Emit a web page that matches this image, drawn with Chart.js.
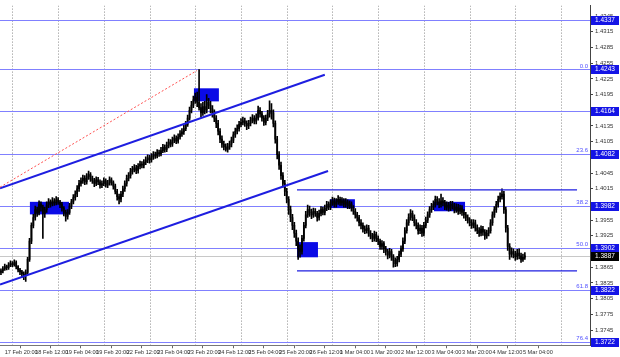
<!DOCTYPE html>
<html>
<head>
<meta charset="utf-8">
<script src="https://cdn.jsdelivr.net/npm/chart.js@4.4.1/dist/chart.umd.min.js"></script>
<style>
  html, body { margin: 0; padding: 0; background: #fff; overflow: hidden; }
  canvas { display: block; }
</style>
</head>
<body>
<canvas id="chart" width="620" height="357"></canvas>
<script>
// hourly candles, 17 Feb 18:00 .. 5 Mar 06:00 (open = previous close)
var firstOpen = 1.3855;
var closes = [
  1.3858,1.3862,1.3866,1.3864,1.3869,1.3872,1.3870,1.3874,1.3866,1.3860,
  1.3856,1.3852,1.3849,1.3855,1.3880,1.3915,1.3945,1.3960,1.3975,1.3970,
  1.3985,1.3980,1.3968,1.3975,1.3984,1.3990,1.3986,1.3992,1.3988,1.3994,
  1.3990,1.3985,1.3978,1.3970,1.3962,1.3970,1.3982,1.3990,1.3998,1.4005,
  1.4015,1.4025,1.4030,1.4035,1.4028,1.4038,1.4042,1.4034,1.4030,1.4025,
  1.4032,1.4028,1.4022,1.4025,1.4030,1.4022,1.4026,1.4032,1.4027,1.4020,
  1.4010,1.4000,1.3995,1.4005,1.4015,1.4025,1.4035,1.4040,1.4048,1.4052,
  1.4055,1.4050,1.4058,1.4062,1.4060,1.4066,1.4070,1.4074,1.4070,1.4076,
  1.4080,1.4078,1.4084,1.4082,1.4088,1.4094,1.4090,1.4098,1.4104,1.4100,
  1.4108,1.4112,1.4106,1.4114,1.4120,1.4124,1.4130,1.4138,1.4150,1.4165,
  1.4175,1.4185,1.4190,1.4180,1.4170,1.4160,1.4172,1.4165,1.4180,1.4175,
  1.4168,1.4160,1.4150,1.4140,1.4125,1.4110,1.4100,1.4095,1.4090,1.4095,
  1.4100,1.4108,1.4118,1.4125,1.4130,1.4138,1.4142,1.4145,1.4140,1.4135,
  1.4140,1.4146,1.4150,1.4144,1.4150,1.4165,1.4158,1.4150,1.4142,1.4150,
  1.4158,1.4165,1.4160,1.4140,1.4110,1.4080,1.4060,1.4040,1.4025,1.4010,
  1.3995,1.3975,1.3960,1.3945,1.3930,1.3915,1.3900,1.3895,1.3920,1.3945,
  1.3965,1.3975,1.3970,1.3965,1.3972,1.3968,1.3960,1.3968,1.3975,1.3970,
  1.3978,1.3985,1.3980,1.3988,1.3992,1.3985,1.3990,1.3995,1.3988,1.3992,
  1.3985,1.3990,1.3982,1.3986,1.3978,1.3972,1.3965,1.3960,1.3950,1.3945,
  1.3938,1.3935,1.3940,1.3930,1.3925,1.3920,1.3928,1.3920,1.3915,1.3905,
  1.3910,1.3900,1.3895,1.3888,1.3895,1.3885,1.3878,1.3872,1.3880,1.3890,
  1.3900,1.3915,1.3935,1.3950,1.3960,1.3968,1.3960,1.3950,1.3945,1.3935,
  1.3940,1.3930,1.3945,1.3955,1.3965,1.3975,1.3980,1.3985,1.3995,1.3990,
  1.3985,1.3992,1.3988,1.3980,1.3984,1.3978,1.3985,1.3982,1.3975,1.3980,
  1.3972,1.3978,1.3970,1.3965,1.3960,1.3955,1.3950,1.3945,1.3950,1.3940,
  1.3935,1.3930,1.3938,1.3932,1.3925,1.3930,1.3935,1.3950,1.3965,1.3975,
  1.3985,1.3995,1.4000,1.4005,1.3975,1.3940,1.3905,1.3890,1.3895,1.3890,
  1.3885,1.3892,1.3887,1.3880,1.3884,1.3887
];
var highs = [
  1.3862,1.3866,1.3871,1.3869,1.3874,1.3877,1.3876,1.3879,1.3877,1.3868,
  1.3863,1.3859,1.3856,1.3860,1.3884,1.3920,1.3950,1.3966,1.3982,1.3980,
  1.3992,1.3990,1.3984,1.3980,1.3990,1.3996,1.3994,1.3998,1.3996,1.4000,
  1.3998,1.3993,1.3989,1.3981,1.3974,1.3975,1.3987,1.3995,1.4004,1.4011,
  1.4021,1.4031,1.4036,1.4041,1.4040,1.4044,1.4049,1.4046,1.4039,1.4035,
  1.4038,1.4037,1.4032,1.4030,1.4036,1.4034,1.4031,1.4038,1.4036,1.4030,
  1.4024,1.4014,1.4005,1.4010,1.4020,1.4030,1.4041,1.4046,1.4054,1.4058,
  1.4061,1.4060,1.4063,1.4068,1.4067,1.4071,1.4076,1.4080,1.4079,1.4082,
  1.4086,1.4085,1.4090,1.4089,1.4094,1.4100,1.4099,1.4104,1.4110,1.4109,
  1.4114,1.4118,1.4116,1.4120,1.4126,1.4130,1.4136,1.4144,1.4156,1.4171,
  1.4182,1.4192,1.4198,1.4200,1.4243,1.4178,1.4180,1.4182,1.4195,1.4188,
  1.4182,1.4174,1.4166,1.4155,1.4146,1.4130,1.4116,1.4106,1.4101,1.4102,
  1.4106,1.4114,1.4124,1.4131,1.4137,1.4144,1.4149,1.4152,1.4150,1.4145,
  1.4146,1.4152,1.4157,1.4155,1.4158,1.4173,1.4170,1.4163,1.4155,1.4156,
  1.4165,1.4183,1.4178,1.4166,1.4145,1.4115,1.4086,1.4066,1.4046,1.4031,
  1.4016,1.4000,1.3982,1.3966,1.3951,1.3936,1.3921,1.3908,1.3926,1.3951,
  1.3972,1.3984,1.3982,1.3976,1.3978,1.3977,1.3972,1.3974,1.3981,1.3980,
  1.3984,1.3991,1.3990,1.3994,1.3999,1.3997,1.3996,1.4002,1.3999,1.3998,
  1.3996,1.3996,1.3994,1.3992,1.3990,1.3983,1.3977,1.3970,1.3964,1.3956,
  1.3950,1.3944,1.3946,1.3945,1.3935,1.3930,1.3934,1.3932,1.3925,1.3919,
  1.3916,1.3914,1.3905,1.3899,1.3901,1.3899,1.3889,1.3883,1.3886,1.3896,
  1.3906,1.3921,1.3941,1.3956,1.3967,1.3975,1.3973,1.3965,1.3956,1.3950,
  1.3946,1.3945,1.3951,1.3961,1.3971,1.3981,1.3987,1.3992,1.4001,1.4000,
  1.3996,1.4005,1.3998,1.3993,1.3990,1.3989,1.3991,1.3991,1.3987,1.3986,
  1.3985,1.3984,1.3983,1.3975,1.3970,1.3965,1.3960,1.3956,1.3956,1.3955,
  1.3946,1.3941,1.3944,1.3943,1.3937,1.3936,1.3941,1.3956,1.3971,1.3981,
  1.3991,1.4001,1.4007,1.4015,1.4010,1.3980,1.3945,1.3910,1.3902,1.3900,
  1.3896,1.3899,1.3900,1.3892,1.3890,1.3893
];
var lows = [
  1.3851,1.3854,1.3859,1.3860,1.3861,1.3866,1.3866,1.3867,1.3862,1.3856,
  1.3851,1.3846,1.3841,1.3838,1.3852,1.3876,1.3910,1.3940,1.3955,1.3962,
  1.3965,1.3972,1.3920,1.3960,1.3970,1.3979,1.3980,1.3982,1.3983,1.3984,
  1.3985,1.3979,1.3972,1.3963,1.3953,1.3957,1.3966,1.3977,1.3986,1.3993,
  1.4000,1.4010,1.4020,1.4025,1.4023,1.4024,1.4033,1.4029,1.4025,1.4019,
  1.4021,1.4023,1.4016,1.4017,1.4021,1.4018,1.4017,1.4022,1.4022,1.4014,
  1.4005,1.3993,1.3986,1.3990,1.4000,1.4010,1.4020,1.4030,1.4035,1.4043,
  1.4047,1.4044,1.4045,1.4053,1.4055,1.4055,1.4061,1.4065,1.4064,1.4066,
  1.4071,1.4073,1.4074,1.4077,1.4078,1.4084,1.4085,1.4086,1.4093,1.4095,
  1.4096,1.4103,1.4101,1.4102,1.4110,1.4115,1.4119,1.4126,1.4134,1.4146,
  1.4160,1.4170,1.4178,1.4172,1.4165,1.4152,1.4155,1.4158,1.4160,1.4168,
  1.4160,1.4152,1.4143,1.4132,1.4118,1.4103,1.4094,1.4089,1.4087,1.4085,
  1.4090,1.4095,1.4103,1.4113,1.4120,1.4125,1.4133,1.4137,1.4134,1.4128,
  1.4130,1.4135,1.4141,1.4139,1.4139,1.4146,1.4152,1.4144,1.4136,1.4137,
  1.4145,1.4152,1.4148,1.4133,1.4102,1.4072,1.4052,1.4033,1.4018,1.4002,
  1.3988,1.3966,1.3952,1.3937,1.3922,1.3906,1.3880,1.3884,1.3890,1.3915,
  1.3940,1.3960,1.3962,1.3958,1.3960,1.3962,1.3953,1.3955,1.3963,1.3965,
  1.3965,1.3973,1.3975,1.3975,1.3983,1.3980,1.3980,1.3985,1.3983,1.3983,
  1.3980,1.3980,1.3977,1.3977,1.3972,1.3966,1.3959,1.3953,1.3944,1.3938,
  1.3932,1.3929,1.3930,1.3924,1.3919,1.3914,1.3915,1.3914,1.3908,1.3899,
  1.3899,1.3893,1.3888,1.3881,1.3883,1.3878,1.3865,1.3866,1.3867,1.3875,
  1.3885,1.3895,1.3910,1.3930,1.3945,1.3955,1.3954,1.3944,1.3938,1.3928,
  1.3929,1.3924,1.3925,1.3940,1.3950,1.3960,1.3970,1.3975,1.3980,1.3984,
  1.3979,1.3980,1.3982,1.3975,1.3974,1.3972,1.3973,1.3976,1.3969,1.3970,
  1.3966,1.3967,1.3964,1.3959,1.3954,1.3949,1.3944,1.3939,1.3940,1.3934,
  1.3929,1.3924,1.3925,1.3926,1.3918,1.3920,1.3925,1.3930,1.3945,1.3960,
  1.3970,1.3980,1.3990,1.3995,1.3968,1.3932,1.3897,1.3880,1.3884,1.3883,
  1.3878,1.3880,1.3881,1.3874,1.3876,1.3880
];

var timeLabels = ['17 Feb 20:00','18 Feb 12:00','19 Feb 04:00','19 Feb 20:00','22 Feb 12:00','23 Feb 04:00',
  '23 Feb 20:00','24 Feb 12:00','25 Feb 04:00','25 Feb 20:00','26 Feb 12:00','1 Mar 04:00',
  '1 Mar 20:00','2 Mar 12:00','3 Mar 04:00','3 Mar 20:00','4 Mar 12:00','5 Mar 04:00'];
var labelBars = [2,18,34,50,66,82,98,114,130,146,162,178,194,210,226,242,258,274];
var dayBars = [6,30,54,78,102,126,150,174,198,222,246,270,294];
var priceTicks = [1.4345,1.4315,1.4285,1.4255,1.4225,1.4195,1.4165,1.4135,1.4105,1.4075,1.4045,
  1.4015,1.3985,1.3955,1.3925,1.3895,1.3865,1.3835,1.3805,1.3775,1.3745];

// horizontal levels and fibo ratios
var levels = [1.4337,1.4243,1.4164,1.4082,1.3982,1.3902,1.3822,1.3722];
var fiboNames = ['','0.0','','23.6','38.2','50.0','61.8','76.4'];
var lastPrice = 1.3887;

// drawn objects: [bar from, bar to, price top, price bottom]
var boxes = [[15.2,35.7,1.3990,1.3966],[101.3,114.4,1.4207,1.4182],[172.7,185.8,1.3995,1.3978],
  [155.4,166.4,1.3913,1.3884],[227.3,243.6,1.3990,1.3972]];
// [bar, price, bar, price]
var channelLines = [[-0.5,1.4016,170,1.4233],[-0.5,1.3832,171.7,1.4049]];
var fiboLine = [-0.5,1.4018,102.9,1.4241];
// [bar from, bar to, price]
var zoneLines = [[155.4,302.4,1.4013],[155.4,302.4,1.3858]];

var FONT = "'Liberation Sans', Arial, sans-serif";

var opens = closes.map(function (c, i) { return i === 0 ? firstOpen : closes[i - 1]; });

var overlay = {
  id: 'overlay',
  beforeDatasetsDraw: function (chart) {
    var ctx = chart.ctx, xs = chart.scales.x, ys = chart.scales.y, a = chart.chartArea;
    ctx.save();
    ctx.beginPath(); ctx.rect(a.left, a.top, a.right - a.left, a.bottom - a.top); ctx.clip();

    // day separators
    ctx.strokeStyle = '#8a8a8a'; ctx.lineWidth = 1; ctx.setLineDash([1, 2]);
    dayBars.forEach(function (d) {
      var x = Math.round(xs.getPixelForValue(d)) + 0.5;
      ctx.beginPath(); ctx.moveTo(x, a.top); ctx.lineTo(x, a.bottom); ctx.stroke();
    });
    ctx.setLineDash([]);

    // bid line
    var yb = Math.round(ys.getPixelForValue(lastPrice)) + 0.5;
    ctx.strokeStyle = '#c8c8c8';
    ctx.beginPath(); ctx.moveTo(a.left, yb); ctx.lineTo(a.right, yb); ctx.stroke();

    // levels
    ctx.strokeStyle = '#8080ff';
    levels.forEach(function (p) {
      var y = Math.round(ys.getPixelForValue(p)) + 0.5;
      ctx.beginPath(); ctx.moveTo(a.left, y); ctx.lineTo(a.right, y); ctx.stroke();
    });

    // boxes
    boxes.forEach(function (b) {
      var x1 = xs.getPixelForValue(b[0]), x2 = xs.getPixelForValue(b[1]);
      var y1 = ys.getPixelForValue(b[2]), y2 = ys.getPixelForValue(b[3]);
      ctx.fillStyle = '#0a0ae6';
      ctx.fillRect(x1, y1, x2 - x1, y2 - y1);
    });
    ctx.restore();
  },
  afterDatasetsDraw: function (chart) {
    var ctx = chart.ctx, xs = chart.scales.x, ys = chart.scales.y, a = chart.chartArea;
    ctx.save();
    ctx.beginPath(); ctx.rect(a.left, a.top, a.right - a.left, a.bottom - a.top); ctx.clip();

    ctx.strokeStyle = '#1e1ee0'; ctx.lineWidth = 2;
    channelLines.forEach(function (l) {
      ctx.beginPath();
      ctx.moveTo(xs.getPixelForValue(l[0]), ys.getPixelForValue(l[1]));
      ctx.lineTo(xs.getPixelForValue(l[2]), ys.getPixelForValue(l[3]));
      ctx.stroke();
    });

    ctx.lineWidth = 1.3;
    zoneLines.forEach(function (l) {
      var y = ys.getPixelForValue(l[2]);
      ctx.beginPath();
      ctx.moveTo(xs.getPixelForValue(l[0]), y);
      ctx.lineTo(xs.getPixelForValue(l[1]), y);
      ctx.stroke();
    });

    ctx.strokeStyle = '#ff5050'; ctx.lineWidth = 1; ctx.setLineDash([2, 2]);
    ctx.beginPath();
    ctx.moveTo(xs.getPixelForValue(fiboLine[0]), ys.getPixelForValue(fiboLine[1]));
    ctx.lineTo(xs.getPixelForValue(fiboLine[2]), ys.getPixelForValue(fiboLine[3]));
    ctx.stroke();
    ctx.setLineDash([]);

    // fibo names
    ctx.fillStyle = '#5050ff';
    ctx.font = '6px ' + FONT;
    ctx.textAlign = 'right'; ctx.textBaseline = 'bottom';
    levels.forEach(function (p, i) {
      if (!fiboNames[i]) return;
      ctx.fillText(fiboNames[i], a.right - 2, ys.getPixelForValue(p) - 0.5);
    });
    ctx.restore();
  },
  afterDraw: function (chart) {
    var ctx = chart.ctx, ys = chart.scales.y, a = chart.chartArea;
    ctx.save();
    ctx.font = '6.5px ' + FONT;
    ctx.textAlign = 'left'; ctx.textBaseline = 'middle';
    function tag(p, bg) {
      var y = Math.round(ys.getPixelForValue(p));
      ctx.fillStyle = bg;
      ctx.fillRect(a.right + 1, y - 4, 28, 9);
      ctx.fillStyle = '#ffffff';
      ctx.fillText(p.toFixed(4), a.right + 5, y + 0.5);
    }
    levels.forEach(function (p) { tag(p, '#1414e6'); });
    tag(lastPrice, '#000000');
    ctx.restore();
  }
};

new Chart(document.getElementById('chart').getContext('2d'), {
  type: 'bar',
  data: {
    datasets: [
      {
        label: 'wick',
        data: closes.map(function (c, i) { return { x: i, y: [lows[i], highs[i]] }; }),
        backgroundColor: '#000000',
        barThickness: 1,
        grouped: false,
        minBarLength: 1
      },
      {
        label: 'body',
        data: closes.map(function (c, i) { return { x: i, y: [opens[i], c] }; }),
        backgroundColor: '#000000',
        barThickness: 1.1,
        grouped: false,
        minBarLength: 1
      }
    ]
  },
  options: {
    responsive: false,
    animation: false,
    devicePixelRatio: 1,
    layout: { padding: 0 },
    plugins: { legend: { display: false }, tooltip: { enabled: false } },
    scales: {
      x: {
        type: 'linear',
        min: -0.5,
        max: 309.2,
        offset: false,
        afterBuildTicks: function (s) { s.ticks = labelBars.map(function (v) { return { value: v }; }); },
        ticks: {
          autoSkip: false, maxRotation: 0, align: 'start', padding: 1,
          font: { family: FONT, size: 5.6 }, color: '#333',
          callback: function (v) { var k = labelBars.indexOf(v); return k >= 0 ? timeLabels[k] : ''; }
        },
        grid: { drawOnChartArea: false, drawTicks: true, tickLength: 3, color: '#666' },
        border: { color: '#777' }
      },
      y: {
        position: 'right',
        min: 1.37158,
        max: 1.43651,
        afterBuildTicks: function (s) { s.ticks = priceTicks.map(function (v) { return { value: v }; }); },
        afterFit: function (s) { s.width = 30; },
        ticks: {
          padding: 2,
          font: { family: FONT, size: 6 }, color: '#333',
          callback: function (v) { return v.toFixed(4); }
        },
        grid: { drawOnChartArea: false, drawTicks: true, tickLength: 3, color: '#444' },
        border: { color: '#444' }
      }
    }
  },
  plugins: [overlay]
});
</script>
</body>
</html>
